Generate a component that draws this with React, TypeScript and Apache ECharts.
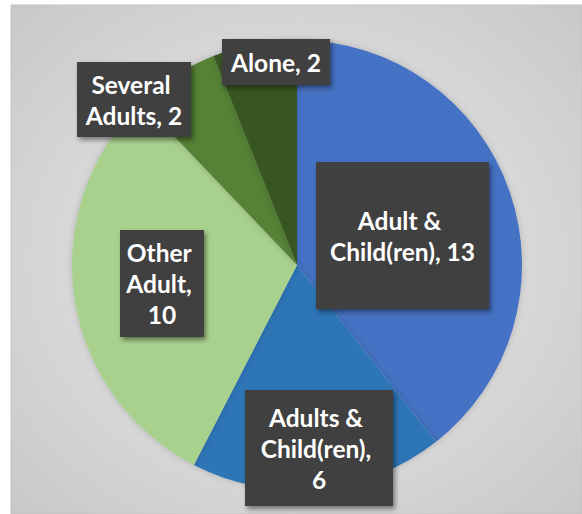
import React, { useEffect, useRef } from "react";
import * as echarts from "echarts";

// ---- data ----
const categories = [
  "Adult & Child(ren)",
  "Adults & Child(ren)",
  "Other Adult",
  "Several Adults",
  "Alone",
];
const values = [13, 6, 10, 2, 2];

// ---- styles / layout (not data) ----
const sliceColors = ["#4472C4", "#2E75B6", "#A9D18E", "#548235", "#385723"];
// label box: centre x, centre y, box width, box height, text wrap width, line count
const labelBoxes = [
  { cx: 402.5, cy: 235.5, w: 173, h: 147, tw: 160, n: 2 },
  { cx: 319, cy: 448, w: 148, h: 116, tw: 120, n: 3 },
  { cx: 162, cy: 283.5, w: 84, h: 107, tw: 74, n: 3 },
  { cx: 134, cy: 99.5, w: 114, h: 75, tw: 106, n: 2 },
  { cx: 276, cy: 62, w: 108, h: 46, tw: 100, n: 1 },
];
const LINE_H = 31;

export default function App() {
  const ref = useRef<HTMLDivElement>(null);

  useEffect(() => {
    document.body.style.margin = "0";
    if (!ref.current) return;
    const chart = echarts.init(ref.current, null, { renderer: "svg" });

    const data = categories.map((name, i) => {
      const b = labelBoxes[i];
      const padV = (b.h - b.n * LINE_H) / 2;
      const padH = (b.w - b.tw) / 2;
      return {
        name,
        value: values[i],
        itemStyle: { color: sliceColors[i] },
        label: {
          width: b.tw,
          padding: [padV, padH, padV, padH],
        },
      };
    });

    chart.setOption({
      animation: false,
      backgroundColor: "#ffffff",
      graphic: [
        {
          type: "rect",
          shape: { x: 11, y: 5, width: 571, height: 509 },
          style: {
            fill: {
              type: "radial",
              x: 0.5,
              y: 0.5,
              r: 0.75,
              colorStops: [
                { offset: 0, color: "#ececec" },
                { offset: 1, color: "#c6c6c6" },
              ],
            },
            stroke: "#c2c2c2",
            lineWidth: 1,
          },
          z: -10,
          silent: true,
        },
      ],
      series: [
        {
          type: "pie",
          center: [297, 265],
          radius: 225,
          startAngle: 90,
          clockwise: true,
          avoidLabelOverlap: false,
          itemStyle: {
            borderWidth: 0,
            shadowBlur: 6,
            shadowColor: "rgba(0,0,0,0.18)",
          },
          label: {
            show: true,
            position: "inside",
            formatter: (p: any) => `${p.name}, ${p.value}`,
            overflow: "break",
            color: "#ffffff",
            fontFamily: "Lato",
            fontWeight: "bold",
            fontSize: 24.5,
            lineHeight: LINE_H,
            align: "center",
            verticalAlign: "middle",
            backgroundColor: "#404040",
            shadowColor: "rgba(0,0,0,0.45)",
            shadowBlur: 5,
            shadowOffsetX: 2,
            shadowOffsetY: 3,
          },
          labelLine: { show: false },
          labelLayout: (params: any) => {
            const b = labelBoxes[params.dataIndex];
            return { x: b.cx, y: b.cy, align: "center", verticalAlign: "middle" };
          },
          emphasis: { disabled: true },
          data,
        },
      ],
    });

    return () => chart.dispose();
  }, []);

  return <div ref={ref} style={{ width: 582, height: 514 }} />;
}
